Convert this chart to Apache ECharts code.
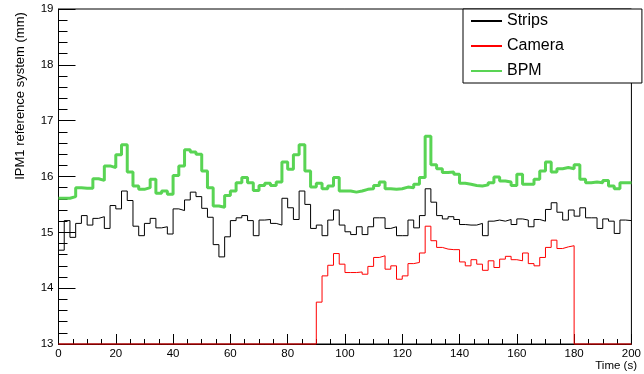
<!DOCTYPE html>
<html>
<head>
<meta charset="utf-8">
<script src="https://cdn.jsdelivr.net/npm/echarts@6/dist/echarts.min.js"></script>
<style>
html,body{margin:0;padding:0;background:#fff;}
#chart{width:644px;height:374px;}
</style>
</head>
<body>
<div id="chart"></div>
<script>
// Histogram bins: 100 bins of 2 s from 0 to 200 s
var binWidth = 2;
var nBins = 100;

var strips = [
  14.68, 15.21, 14.91, 15.16, 15.30, 15.13, 15.25, 15.28, 15.07, 15.48,
  15.42, 15.74, 15.57, 15.11, 14.94, 15.16, 15.25, 15.08, 15.10, 14.97,
  15.42, 15.39, 15.58, 15.72, 15.64, 15.43, 15.27, 14.78, 14.56, 14.92,
  15.21, 15.26, 15.30, 15.21, 14.94, 15.22, 15.23, 15.16, 15.13, 15.61,
  15.44, 15.23, 15.74, 15.50, 15.07, 15.13, 14.94, 15.22, 15.40, 15.13,
  15.01, 14.96, 15.10, 14.96, 15.10, 15.26, 15.26, 15.07, 15.10, 14.94,
  14.94, 15.22, 15.08, 15.30, 15.78, 15.54, 15.30, 15.24, 15.28, 15.23,
  15.14, 15.13, 15.13, 15.16, 14.94, 15.20, 15.22, 15.20, 15.23, 15.14,
  15.24, 15.22, 15.10, 15.23, 15.20, 15.41, 15.53, 15.36, 15.22, 15.40,
  15.29, 15.44, 15.26, 15.26, 15.07, 15.24, 15.20, 14.98, 15.22, 15.21
];

var camera = [
  13, 13, 13, 13, 13, 13, 13, 13, 13, 13,
  13, 13, 13, 13, 13, 13, 13, 13, 13, 13,
  13, 13, 13, 13, 13, 13, 13, 13, 13, 13,
  13, 13, 13, 13, 13, 13, 13, 13, 13, 13,
  13, 13, 13, 13, 13, 13.75, 14.22, 14.41, 14.62, 14.43,
  14.28, 14.28, 14.29, 14.25, 14.39, 14.55, 14.58, 14.34, 14.40, 14.16,
  14.22, 14.44, 14.46, 14.63, 15.11, 14.85, 14.73, 14.70, 14.69, 14.69,
  14.47, 14.40, 14.51, 14.43, 14.32, 14.49, 14.37, 14.52, 14.57, 14.51,
  14.49, 14.63, 14.44, 14.40, 14.55, 14.73, 14.86, 14.71, 14.74, 14.76,
  13, 13, 13, 13, 13, 13, 13, 13, 13, 13
];

var bpm = [
  15.61, 15.61, 15.64, 15.80, 15.79, 15.79, 15.96, 15.93, 16.19, 16.16,
  16.39, 16.57, 16.08, 15.83, 15.77, 15.80, 15.95, 15.70, 15.74, 15.68,
  16.02, 16.19, 16.48, 16.44, 16.40, 16.10, 15.80, 15.47, 15.45, 15.66,
  15.74, 15.89, 15.98, 15.89, 15.75, 15.84, 15.88, 15.84, 15.90, 16.26,
  16.13, 16.39, 16.57, 16.10, 15.81, 15.88, 15.78, 15.83, 15.98, 15.74,
  15.74, 15.72, 15.74, 15.77, 15.78, 15.84, 15.90, 15.78, 15.77, 15.78,
  15.81, 15.80, 15.86, 15.98, 16.72, 16.21, 16.14, 16.07, 16.08, 16.04,
  15.88, 15.86, 15.84, 15.83, 15.85, 15.89, 15.99, 15.92, 15.90, 15.84,
  16.04, 15.86, 15.86, 15.95, 16.10, 16.26, 16.08, 16.14, 16.16, 16.14,
  16.21, 15.95, 15.89, 15.90, 15.89, 15.93, 15.83, 15.78, 15.89, 15.89
];

var seriesNames = ['Strips', 'Camera', 'BPM'];
var xAxisTitle = 'Time (s)';
var yAxisTitle = 'IPM1 reference system (mm)';

function toSteps(vals) {
  var out = [];
  for (var i = 0; i < vals.length; i++) out.push([i * binWidth, vals[i]]);
  out.push([vals.length * binWidth, vals[vals.length - 1]]);
  return out;
}

var FONT = '"Liberation Sans", Arial, sans-serif';
var chart = echarts.init(document.getElementById('chart'), null, {renderer: 'canvas'});
chart.setOption({
  animation: false,
  backgroundColor: '#fff',
  grid: {left: 58.5, right: 3, top: 9, bottom: 30, show: true, borderColor: '#000', borderWidth: 1, backgroundColor: 'transparent'},
  legend: {
    data: seriesNames,
    orient: 'vertical',
    left: 463, top: 9,
    padding: [4, 78, 4, 7],
    itemGap: 9,
    itemWidth: 31,
    itemHeight: 14,
    borderColor: '#000', borderWidth: 1, borderRadius: 0,
    backgroundColor: '#fff',
    itemStyle: {opacity: 0, borderWidth: 0},
    textStyle: {fontSize: 16, color: '#000', fontFamily: FONT},
    selectedMode: false
  },
  xAxis: {
    type: 'value', min: 0, max: binWidth * nBins, interval: 20,
    axisLine: {show: true, lineStyle: {color: '#000', width: 1}},
    axisTick: {show: true, inside: true, length: 10, lineStyle: {color: '#000'}},
    minorTick: {show: true, splitNumber: 4, length: 5, lineStyle: {color: '#000'}},
    splitLine: {show: false},
    axisLabel: {fontSize: 11.5, color: '#000', fontFamily: FONT, margin: 4, showMinLabel: true, showMaxLabel: true}
  },
  yAxis: {
    type: 'value', min: 13, max: 19, interval: 1,
    axisLine: {show: true, lineStyle: {color: '#000', width: 1}},
    axisTick: {show: true, inside: true, length: 17, lineStyle: {color: '#000'}},
    minorTick: {show: true, splitNumber: 5, length: 9, lineStyle: {color: '#000'}},
    splitLine: {show: false},
    axisLabel: {fontSize: 11.5, color: '#000', fontFamily: FONT, margin: 5, showMinLabel: true, showMaxLabel: true}
  },
  graphic: [
    {type: 'text', x: 20, y: 96, rotation: Math.PI / 2,
     style: {text: yAxisTitle, align: 'center', verticalAlign: 'middle', fontSize: 13, fontFamily: FONT, fill: '#000'}},
    {type: 'text', x: 637, y: 366,
     style: {text: xAxisTitle, align: 'right', verticalAlign: 'middle', fontSize: 11.5, fontFamily: FONT, fill: '#000'}}
  ],
  series: [
    {name: seriesNames[0], type: 'line', step: 'end', symbol: 'none', data: toSteps(strips),
     lineStyle: {color: '#000', width: 1}, itemStyle: {color: '#000'}, z: 3},
    {name: seriesNames[1], type: 'line', step: 'end', symbol: 'none', data: toSteps(camera),
     lineStyle: {color: '#ff0000', width: 1}, itemStyle: {color: '#ff0000'}, z: 4, clip: false},
    {name: seriesNames[2], type: 'line', step: 'end', symbol: 'none', data: toSteps(bpm),
     lineStyle: {color: '#59d454', width: 3}, itemStyle: {color: '#59d454'}, z: 5}
  ]
});
</script>
</body>
</html>
